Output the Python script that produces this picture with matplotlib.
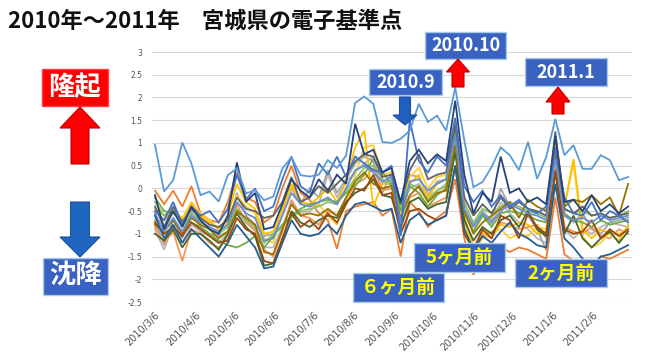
import matplotlib
matplotlib.use('Agg')
import matplotlib.pyplot as plt
from matplotlib.patches import Polygon, Rectangle
import pandas as pd

plt.rcParams['font.family'] = ['Noto Sans CJK JP', 'DejaVu Sans']

# ---------------- data ----------------
dates = pd.date_range('2010-03-06', periods=53, freq='7D')
tick_dates = pd.to_datetime(['2010-03-06', '2010-04-06', '2010-05-06', '2010-06-06',
                             '2010-07-06', '2010-08-06', '2010-09-06', '2010-10-06',
                             '2010-11-06', '2010-12-06', '2011-01-06', '2011-02-06'])
tick_labels = ['2010/3/6', '2010/4/6', '2010/5/6', '2010/6/6', '2010/7/6', '2010/8/6',
               '2010/9/6', '2010/10/6', '2010/11/6', '2010/12/6', '2011/1/6', '2011/2/6']
y_ticks = [-2.5, -2, -1.5, -1, -0.5, 0, 0.5, 1, 1.5, 2, 2.5, 3]
y_tick_labels = ['-2.5', '-2', '-1.5', '-1', '-0.5', '0', '0.5', '1', '1.5', '2', '2.5', '3']

s_lightblue = [0.96, -0.07, 0.18, 1.01, 0.55, -0.15, -0.07, -0.29, 0.29, 0.44, -0.11, -0.04, -0.26,
               -0.18, 0.44, 0.68, 0.29, 0.26, 0.3, 0.62, 0.45, 0.72, 1.88, 2.02, 1.86, 1.02, 1.0,
               1.09, 1.27, 1.86, 1.46, 1.6, 1.27, 2.22, 1.05, 0.03, 0.14, 0.47, 0.9, 0.73, 0.40,
               1.02, 0.21, 0.69, 1.53, 0.73, 0.95, 0.43, 0.43, 0.73, 0.62, 0.18, 0.25]
s_navy = [-0.15, -0.9, -0.5, -0.85, -0.4, -0.7, -0.9, -1.0, -0.6, 0.57, -0.3, -0.1, -0.9, -0.85,
          -0.35, 0.2, -0.05, -0.2, 0.2, -0.05, 0.3, 0.1, 1.42, 0.75, 0.85, 0.35, 0.45, -0.3, 0.6,
          0.85, 0.55, 0.75, 0.6, 1.93, 0.3, -0.55, -0.1, -0.3, 0.7, -0.1, 0.0, -0.3, -0.2, -0.35,
          1.15, -0.3, -0.25, -0.5, -0.15, -0.5, -0.35, -0.55, -0.4]
s_blue = [-0.5, -0.7, -0.3, -0.8, -0.4, -0.6, -0.5, -0.75, -0.45, 0.3, -0.25, 0.0, -0.5, -0.4,
          0.2, 0.7, 0.05, -0.1, 0.55, 0.3, 0.7, 0.25, 0.7, 0.55, 0.4, 0.35, 0.5, -1.05, 1.5, 0.6,
          0.35, 0.7, 0.5, 1.55, 0.05, -0.3, -0.05, -0.4, -0.15, -0.4, -0.25, -0.45, -0.55, -0.4,
          0.9, -0.2, -0.55, -0.6, -0.3, -0.7, -0.5, -0.6, -0.75]
s_orange = [-0.05, -0.35, -0.05, -0.4, 0.05, -0.55, -0.7, -0.75, -0.3, 0.35, -0.2, -0.3, -0.75,
            -0.6, 0.0, 0.5, -0.1, -0.25, -0.55, -0.7, -1.33, -0.5, -0.4, -0.35, -0.3, -0.6, -0.45,
            -1.5, -0.3, -0.5, -0.85, -0.65, -0.5, 0.2, -1.1, -1.9, -1.5, -1.35, -1.3, -1.4, -1.3,
            -1.35, -1.45, -1.55, -0.2, -1.45, -1.6, -1.65, -1.75, -1.5, -1.55, -1.45, -1.35]
s_gold = [-0.45, -0.6, -0.45, -0.7, -0.3, -0.6, -0.75, -0.9, -0.6, 0.1, -0.3, -0.45, -1.0, -0.95,
          -0.45, 0.1, -0.3, -0.35, -0.2, 0.0, -0.3, 0.15, 0.9, 1.27, -0.4, 0.1, 0.1, -0.7, 0.1, 0.3,
          -0.2, 0.1, 0.2, 1.3, -0.6, -1.3, -0.95, -1.0, -0.8, -0.85, -0.75, -0.8, -1.0, -0.95,
          0.95, -0.4, 0.65, -0.9, -1.1, -0.9, -1.0, -1.15, -0.8]
s_gray = [-0.7, -1.25, -0.7, -1.1, -0.5, -0.85, -1.0, -1.05, -0.95, -0.1, -0.6, -0.8, -1.05, -1.0,
          -0.55, 0.0, -0.35, 0.0, -0.2, 0.4, -0.1, 0.2, 0.55, 0.7, 0.6, -0.1, 0.35, -0.5, 0.3, 0.25,
          -0.15, 0.15, 0.2, 1.0, -0.3, -0.8, -0.5, -0.7, 0.0, -0.4, -0.55, -0.6, -0.9, -1.36, 1.05,
          -0.6, -0.75, -0.55, -0.9, -1.0, -0.75, -0.7, -0.65]
s_green = [-0.2, -0.5, -0.55, -0.7, -0.75, -0.85, -1.0, -1.15, -1.25, -1.3, -1.2, -1.05, -1.3,
           -1.05, -0.8, -0.6, -0.45, -0.35, -0.3, -0.25, -0.3, -0.1, 0.05, 0.3, 0.65, 0.35, 0.1,
           -0.5, 0.05, -0.1, -0.4, -0.15, 0.0, 1.25, -0.5, -0.95, -0.6, -0.85, -0.55, -0.5, -0.55,
           -0.6, -0.7, -0.75, 0.75, -0.55, -0.7, -0.75, -0.85, -0.7, -0.8, -0.75, -0.7]
s_brown = [-0.75, -1.0, -0.85, -1.05, -0.75, -0.9, -1.05, -1.2, -1.15, -0.65, -0.9, -1.0, -1.6,
           -1.65, -1.1, -0.55, -0.85, -0.7, -0.9, -0.55, -0.75, -0.35, 0.0, -0.05, 0.3, -0.15, -0.1,
           -1.0, -0.5, -0.45, -0.6, -0.7, -0.6, 0.5, -1.0, -1.35, -0.9, -1.1, -0.6, -0.7, -1.1,
           -0.55, -0.85, -1.0, 0.4, -0.9, -1.0, -0.95, -0.7, -1.1, -0.9, -1.05, -0.9]
s_darkgray = [-0.4, -0.85, -0.4, -0.75, -0.45, -0.65, -0.8, -0.85, -0.7, -0.2, -0.45, -0.5, -0.65,
              -0.6, -0.3, 0.25, -0.3, -0.2, 0.05, -0.1, 0.1, 0.3, 0.6, 0.75, 0.7, 0.25, 0.3, -0.35,
              0.4, 0.75, 0.2, 0.3, 0.35, 1.4, -0.2, -0.6, -0.35, -0.55, -0.2, -0.45, -0.3, -0.45,
              -0.5, -0.6, 1.25, -0.45, -0.55, -0.4, -0.6, -0.55, -0.65, -0.6, -0.55]
s_olive = [-0.8, -0.95, -0.7, -1.0, -0.65, -0.8, -0.9, -1.1, -0.95, -0.5, -0.65, -0.8, -1.4, -1.45,
           -0.9, -0.35, -0.6, -0.55, -0.6, -0.45, -0.6, -0.2, 0.15, 0.35, 0.1, 0.0, 0.05, -0.65,
           -0.15, 0.05, -0.3, -0.1, -0.05, 0.95, -0.5, -1.0, -0.75, -0.6, -0.45, -0.3, -0.65, -0.25,
           -0.4, -0.5, 0.75, -0.4, -0.25, -0.3, -0.15, -0.35, -0.2, -0.6, 0.1]
s_steel = [-0.6, -1.1, -0.8, -1.2, -0.9, -1.1, -1.3, -1.5, -1.2, -0.8, -1.05, -1.3, -1.76, -1.72,
           -1.2, -0.7, -1.0, -1.05, -1.0, -0.8, -1.0, -0.6, -0.35, -0.3, -0.4, -0.5, -0.45, -1.2,
           -0.7, -0.55, -0.8, -0.7, -0.6, 0.5, -0.9, -1.35, -1.05, -1.2, -0.95, -0.75, -1.0, -1.1,
           -1.25, -1.3, 0.1, -1.1, -1.3, -1.55, -1.7, -1.5, -1.45, -1.35, -1.25]
s_darkgreen = [-1.0, -1.15, -0.9, -1.3, -1.0, -1.0, -1.15, -1.35, -1.0, -0.55, -0.85, -1.05, -1.7,
               -1.65, -1.15, -0.5, -0.75, -0.85, -0.7, -0.6, -0.65, -0.3, -0.1, 0.0, 0.2, -0.15,
               -0.2, -0.85, -0.3, -0.2, -0.45, -0.35, -0.3, 0.8, -0.7, -1.15, -0.85, -1.0, -0.7,
               -0.6, -0.85, -0.5, -0.9, -1.05, 0.35, -1.0, -0.6, -1.1, -1.3, -1.1, -0.95, -1.2, -0.95]
s_midblue = [-0.55, -0.95, -0.65, -0.95, -0.6, -0.75, -0.85, -0.95, -0.8, -0.3, -0.55, -0.65, -1.15,
             -1.1, -0.6, -0.1, -0.35, -0.4, -0.3, -0.2, -0.35, 0.0, 0.4, 0.5, 0.35, 0.15, 0.25,
             -0.75, 0.15, 0.2, -0.05, 0.1, 0.2, 1.15, -0.45, -0.85, -0.55, -0.75, -0.5, -0.35, -0.45,
             -0.55, -0.6, -0.7, 0.65, -0.6, -0.7, -0.65, -0.75, -0.6, -0.7, -0.65, -0.6]
s_lightorange = [-0.85, -1.2, -0.95, -1.6, -0.9, -1.0, -1.2, -1.3, -1.1, -0.35, -0.75, -0.9, -1.35,
                 -1.5, -0.95, -0.25, -0.6, -0.65, -0.8, -0.5, -0.6, -0.25, 0.1, 0.2, 0.45, -0.05,
                 0.0, -0.9, -0.2, -0.1, -0.4, -0.3, -0.2, 0.85, -0.8, -1.3, -1.0, -1.1, -0.75, -0.8,
                 -0.9, -0.85, -0.8, -1.1, 0.45, -0.85, -0.95, -1.0, -0.85, -1.05, -1.1, -0.9, -1.0]
s_yellow = [-0.75, -0.7, -0.5, -0.65, -0.35, -0.55, -0.7, -0.9, -0.75, -0.15, -0.4, -0.55, -1.1,
            -1.2, -0.5, 0.05, -0.25, -0.4, -0.35, -0.6, -0.8, -0.3, 0.3, 0.9, 0.95, 0.3, 0.35, -0.55,
            0.25, 0.45, 0.0, 0.25, 0.3, 1.2, -0.75, -1.4, -1.1, -0.95, -0.9, -1.1, -1.0, -1.05,
            -0.85, -0.9, 0.85, -0.4, 0.55, -1.05, -1.3, -1.2, -0.95, -1.0, -0.9]
s_lightgreen = [-0.3, -0.6, -0.45, -0.85, -0.55, -0.7, -0.9, -1.0, -0.85, -0.45, -0.7, -0.85, -1.2,
                -1.0, -0.85, -0.65, -0.5, -0.45, -0.4, -0.3, -0.35, -0.05, 0.2, 0.45, 0.5, 0.2, 0.05,
                -0.4, 0.1, 0.0, -0.25, -0.05, 0.05, 0.95, -0.35, -0.75, -0.45, -0.55, -0.4, -0.3,
                -0.4, -0.5, -0.55, -0.65, 0.6, -0.45, -0.55, -0.5, -0.6, -0.55, -0.65, -0.6, -0.5]
s_lightgray = [-0.9, -1.35, -0.8, -1.2, -0.8, -0.95, -1.05, -1.2, -1.0, -0.5, -0.75, -0.95, -1.3,
               -1.3, -0.85, -0.3, -0.55, -0.5, -0.35, 0.3, -0.2, 0.15, 0.35, 0.55, 0.7, 0.1, 0.2,
               -0.45, 0.0, 0.1, -0.2, -0.05, 0.1, 0.9, -0.55, -0.95, -0.6, -0.8, -0.3, -0.55, -0.75,
               -0.9, -1.1, -1.2, 0.7, -0.9, -1.1, -0.9, -1.0, -0.85, -0.75, -0.8, -0.85]

series = [
    (s_lightgray, '#B7B7B7'), (s_gray, '#A5A5A5'), (s_lightorange, '#F1975A'),
    (s_orange, '#ED7D31'), (s_yellow, '#FFCD33'), (s_gold, '#FFC000'),
    (s_lightgreen, '#8CC168'), (s_green, '#70AD47'), (s_darkgreen, '#43682B'),
    (s_olive, '#997300'), (s_brown, '#9E480E'), (s_darkgray, '#636363'),
    (s_midblue, '#698ED0'), (s_steel, '#255E91'), (s_blue, '#4472C4'),
    (s_navy, '#264478'), (s_lightblue, '#5B9BD5'),
]

# ---------------- figure ----------------
W, H = 650, 359
fig = plt.figure(figsize=(W / 100, H / 100), dpi=100)
fig.patch.set_facecolor('white')

ax = fig.add_axes([152 / W, 57 / H, 480 / W, 250 / H])
for vals, col in series:
    ax.plot(dates, vals, color=col, lw=1.3, solid_joinstyle='miter', zorder=3)

ax.set_ylim(-2.5, 3)
ax.set_yticks(y_ticks)
ax.set_yticklabels(y_tick_labels, fontsize=5.5, color='#505050', family='DejaVu Sans')
ax.set_xlim(dates[0] - pd.Timedelta(days=2.3), dates[-1] + pd.Timedelta(days=3))
ax.set_xticks(tick_dates)
ax.set_xticklabels(tick_labels, rotation=45, ha='right', rotation_mode='anchor',
                   fontsize=7, color='#505050', family='DejaVu Sans')
ax.tick_params(axis='both', length=0)
ax.tick_params(axis='y', pad=7)
ax.tick_params(axis='x', pad=6)
ax.grid(axis='y', color='#D9D9D9', lw=0.8, zorder=0)
for s in ax.spines.values():
    s.set_visible(False)

# ---------------- annotations ----------------
def fx(x):
    return x / W

def fy(y):
    return 1 - y / H

def box(x0, y0, x1, y1, fc, ec, text, tcolor, size):
    r = Rectangle((fx(x0), fy(y1)), (x1 - x0) / W, (y1 - y0) / H, transform=fig.transFigure,
                  facecolor=fc, edgecolor=ec, lw=1, zorder=5)
    fig.add_artist(r)
    fig.text(fx((x0 + x1) / 2), fy((y0 + y1) / 2), text, ha='center', va='center',
             color=tcolor, fontsize=size, fontweight='bold', zorder=6)

def arrow(cx, y_tip, y_head, y_end, hw, sw, fc, ec):
    pts = [(cx, y_tip), (cx + hw, y_head), (cx + sw, y_head), (cx + sw, y_end),
           (cx - sw, y_end), (cx - sw, y_head), (cx - hw, y_head)]
    p = Polygon([(fx(a), fy(b)) for a, b in pts], closed=True, transform=fig.transFigure,
                facecolor=fc, edgecolor=ec, lw=0.8, zorder=5)
    fig.add_artist(p)

fig.text(fx(8), fy(21), '2010年～2011年　宮城県の電子基準点', ha='left', va='center',
         fontsize=16, fontweight='bold', color='#111111')

BLUE_BOX = '#3A62C0'
BOX_EDGE = '#A9CBEA'

box(42, 69, 108, 106, '#FF0000', '#FF4040', '隆起', 'white', 19)
arrow(80, 107, 128, 164, 20, 9, '#FF0000', '#C00000')
arrow(80, 257, 237, 202, 20, 9.5, '#1F66C1', '#1A55A0')
box(43, 258, 108, 295, BLUE_BOX, BOX_EDGE, '沈降', 'white', 19)

box(369, 69, 442, 95, BLUE_BOX, BOX_EDGE, '2010.9', 'white', 13)
arrow(405, 125, 115, 97, 12, 5.5, '#1F5FBF', '#1A50A0')
box(425, 32, 506, 59, BLUE_BOX, BOX_EDGE, '2010.10', 'white', 13)
arrow(458, 59, 72, 87, 11.5, 6, '#FF0000', '#C00000')
box(525, 58, 607, 86, BLUE_BOX, BOX_EDGE, '2011.1', 'white', 13)
arrow(558, 87, 102, 114, 12, 6, '#FF0000', '#C00000')

box(414, 243, 505, 272, BLUE_BOX, BOX_EDGE, '5ヶ月前', '#FFFF00', 13.5)
box(353, 273, 444, 302, BLUE_BOX, BOX_EDGE, '６ヶ月前', '#FFFF00', 13.5)
box(515, 259, 607, 287, BLUE_BOX, BOX_EDGE, '2ヶ月前', '#FFFF00', 13.5)

fig.savefig('out.png', dpi=100)
